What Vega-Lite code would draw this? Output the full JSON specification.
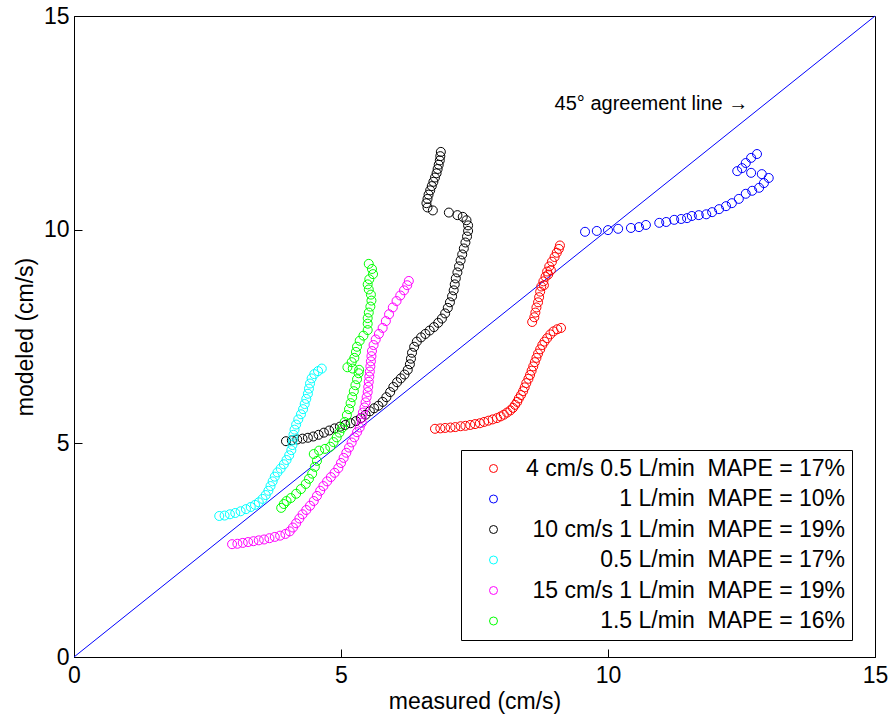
{
  "$schema": "https://vega.github.io/schema/vega-lite/v6.json",
  "width": 801,
  "height": 641,
  "autosize": {"type": "none"},
  "padding": {"left": 74, "top": 16, "right": 16, "bottom": 57},
  "background": "white",
  "config": {
    "font": "Liberation Sans",
    "view": {"stroke": "black", "strokeWidth": 1},
    "axis": {
      "grid": false,
      "domainColor": "black",
      "tickColor": "black",
      "labelColor": "black",
      "titleColor": "black",
      "labelFontSize": 23,
      "titleFontSize": 23,
      "titleFontWeight": "normal",
      "tickSize": -8,
      "labelFlush": false
    }
  },
  "datasets": {
    "series": [
      {"k": "r", "label": "4 cm/s 0.5 L/min\u00a0 MAPE = 17%"},
      {"k": "b", "label": "1 L/min\u00a0 MAPE = 10%"},
      {"k": "k", "label": "10 cm/s 1 L/min\u00a0 MAPE = 19%"},
      {"k": "c", "label": "0.5 L/min\u00a0 MAPE = 17%"},
      {"k": "m", "label": "15 cm/s 1 L/min\u00a0 MAPE = 19%"},
      {"k": "g", "label": "1.5 L/min\u00a0 MAPE = 16%"}
    ],
    "pts": [
      {"k":"r","x":6.76,"y":5.34},{"k":"r","x":6.86,"y":5.35},{"k":"r","x":6.95,"y":5.36},{"k":"r","x":7.05,"y":5.37},{"k":"r","x":7.14,"y":5.38},{"k":"r","x":7.24,"y":5.40},{"k":"r","x":7.33,"y":5.41},{"k":"r","x":7.42,"y":5.43},{"k":"r","x":7.51,"y":5.45},{"k":"r","x":7.60,"y":5.47},{"k":"r","x":7.68,"y":5.50},{"k":"r","x":7.76,"y":5.53},{"k":"r","x":7.84,"y":5.56},{"k":"r","x":7.92,"y":5.59},{"k":"r","x":7.99,"y":5.63},{"k":"r","x":8.05,"y":5.67},{"k":"r","x":8.11,"y":5.72},{"k":"r","x":8.17,"y":5.77},{"k":"r","x":8.22,"y":5.83},{"k":"r","x":8.26,"y":5.90},{"k":"r","x":8.30,"y":5.97},{"k":"r","x":8.33,"y":6.05},{"k":"r","x":8.37,"y":6.13},{"k":"r","x":8.41,"y":6.22},{"k":"r","x":8.44,"y":6.31},{"k":"r","x":8.47,"y":6.41},{"k":"r","x":8.51,"y":6.51},{"k":"r","x":8.54,"y":6.60},{"k":"r","x":8.57,"y":6.70},{"k":"r","x":8.60,"y":6.80},{"k":"r","x":8.63,"y":6.90},{"k":"r","x":8.66,"y":7.00},{"k":"r","x":8.69,"y":7.10},{"k":"r","x":8.73,"y":7.20},{"k":"r","x":8.77,"y":7.30},{"k":"r","x":8.81,"y":7.38},{"k":"r","x":8.86,"y":7.46},{"k":"r","x":8.92,"y":7.55},{"k":"r","x":8.98,"y":7.62},{"k":"r","x":9.05,"y":7.67},{"k":"r","x":9.12,"y":7.70},
      {"k":"r","x":8.58,"y":7.84},{"k":"r","x":8.62,"y":7.95},{"k":"r","x":8.64,"y":8.06},{"k":"r","x":8.66,"y":8.18},{"k":"r","x":8.69,"y":8.30},{"k":"r","x":8.71,"y":8.42},{"k":"r","x":8.73,"y":8.55},{"k":"r","x":8.75,"y":8.67},{"k":"r","x":8.80,"y":8.70},{"k":"r","x":8.79,"y":8.79},{"k":"r","x":8.83,"y":8.90},{"k":"r","x":8.88,"y":8.95},{"k":"r","x":8.86,"y":9.02},{"k":"r","x":8.93,"y":9.05},{"k":"r","x":8.90,"y":9.14},{"k":"r","x":8.95,"y":9.25},{"k":"r","x":9.00,"y":9.36},{"k":"r","x":9.04,"y":9.46},{"k":"r","x":9.08,"y":9.55},{"k":"r","x":9.10,"y":9.63},
      {"k":"b","x":9.57,"y":9.95},{"k":"b","x":9.79,"y":9.97},{"k":"b","x":10.00,"y":9.99},{"k":"b","x":10.19,"y":10.02},{"k":"b","x":10.43,"y":10.04},{"k":"b","x":10.58,"y":10.06},{"k":"b","x":10.71,"y":10.11},{"k":"b","x":10.96,"y":10.16},{"k":"b","x":11.09,"y":10.18},{"k":"b","x":11.24,"y":10.23},{"k":"b","x":11.37,"y":10.25},{"k":"b","x":11.48,"y":10.27},{"k":"b","x":11.57,"y":10.32},{"k":"b","x":11.70,"y":10.34},{"k":"b","x":11.84,"y":10.36},{"k":"b","x":11.95,"y":10.41},{"k":"b","x":12.08,"y":10.48},{"k":"b","x":12.21,"y":10.55},{"k":"b","x":12.32,"y":10.62},{"k":"b","x":12.45,"y":10.72},{"k":"b","x":12.58,"y":10.84},{"k":"b","x":12.70,"y":10.91},{"k":"b","x":12.83,"y":10.98},{"k":"b","x":12.92,"y":11.09},{"k":"b","x":13.01,"y":11.21},{"k":"b","x":12.88,"y":11.30},{"k":"b","x":12.68,"y":11.33},{"k":"b","x":12.42,"y":11.37},{"k":"b","x":12.51,"y":11.44},{"k":"b","x":12.58,"y":11.56},{"k":"b","x":12.68,"y":11.68},{"k":"b","x":12.79,"y":11.77},
      {"k":"k","x":3.97,"y":5.05},{"k":"k","x":4.08,"y":5.07},{"k":"k","x":4.18,"y":5.09},{"k":"k","x":4.28,"y":5.11},{"k":"k","x":4.38,"y":5.13},{"k":"k","x":4.48,"y":5.16},{"k":"k","x":4.58,"y":5.20},{"k":"k","x":4.68,"y":5.25},{"k":"k","x":4.78,"y":5.30},{"k":"k","x":4.88,"y":5.35},{"k":"k","x":4.98,"y":5.39},{"k":"k","x":5.08,"y":5.43},{"k":"k","x":5.18,"y":5.47},{"k":"k","x":5.28,"y":5.52},{"k":"k","x":5.37,"y":5.59},{"k":"k","x":5.46,"y":5.67},{"k":"k","x":5.54,"y":5.75},{"k":"k","x":5.62,"y":5.82},{"k":"k","x":5.70,"y":5.88},{"k":"k","x":5.78,"y":5.97},{"k":"k","x":5.85,"y":6.08},{"k":"k","x":5.92,"y":6.20},{"k":"k","x":5.98,"y":6.32},{"k":"k","x":6.05,"y":6.43},{"k":"k","x":6.12,"y":6.52},{"k":"k","x":6.19,"y":6.61},{"k":"k","x":6.25,"y":6.72},{"k":"k","x":6.29,"y":6.85},{"k":"k","x":6.31,"y":6.98},{"k":"k","x":6.33,"y":7.12},{"k":"k","x":6.37,"y":7.26},{"k":"k","x":6.42,"y":7.38},{"k":"k","x":6.50,"y":7.48},{"k":"k","x":6.58,"y":7.56},{"k":"k","x":6.66,"y":7.64},{"k":"k","x":6.74,"y":7.72},{"k":"k","x":6.82,"y":7.82},{"k":"k","x":6.89,"y":7.92},{"k":"k","x":6.95,"y":8.04},{"k":"k","x":7.00,"y":8.17},{"k":"k","x":7.04,"y":8.30},{"k":"k","x":7.08,"y":8.44},{"k":"k","x":7.11,"y":8.58},{"k":"k","x":7.13,"y":8.72},{"k":"k","x":7.15,"y":8.86},{"k":"k","x":7.18,"y":9.00},{"k":"k","x":7.21,"y":9.14},{"k":"k","x":7.24,"y":9.28},{"k":"k","x":7.27,"y":9.42},{"k":"k","x":7.30,"y":9.56},{"k":"k","x":7.33,"y":9.70},{"k":"k","x":7.36,"y":9.84},{"k":"k","x":7.38,"y":9.97},{"k":"k","x":7.38,"y":10.10},{"k":"k","x":7.35,"y":10.22},{"k":"k","x":7.28,"y":10.30},{"k":"k","x":7.18,"y":10.34},{"k":"k","x":7.02,"y":10.40},{"k":"k","x":6.72,"y":10.45},{"k":"k","x":6.62,"y":10.52},{"k":"k","x":6.60,"y":10.62},{"k":"k","x":6.62,"y":10.72},{"k":"k","x":6.64,"y":10.82},{"k":"k","x":6.67,"y":10.92},{"k":"k","x":6.70,"y":11.02},{"k":"k","x":6.73,"y":11.12},{"k":"k","x":6.76,"y":11.22},{"k":"k","x":6.79,"y":11.32},{"k":"k","x":6.81,"y":11.42},{"k":"k","x":6.83,"y":11.52},{"k":"k","x":6.85,"y":11.62},{"k":"k","x":6.86,"y":11.72},{"k":"k","x":6.87,"y":11.82},
      {"k":"c","x":2.72,"y":3.30},{"k":"c","x":2.82,"y":3.31},{"k":"c","x":2.92,"y":3.34},{"k":"c","x":3.02,"y":3.37},{"k":"c","x":3.12,"y":3.41},{"k":"c","x":3.22,"y":3.46},{"k":"c","x":3.31,"y":3.51},{"k":"c","x":3.39,"y":3.56},{"k":"c","x":3.46,"y":3.62},{"k":"c","x":3.53,"y":3.70},{"k":"c","x":3.59,"y":3.79},{"k":"c","x":3.64,"y":3.89},{"k":"c","x":3.68,"y":4.00},{"k":"c","x":3.72,"y":4.11},{"k":"c","x":3.76,"y":4.22},{"k":"c","x":3.81,"y":4.32},{"k":"c","x":3.87,"y":4.41},{"k":"c","x":3.93,"y":4.51},{"k":"c","x":3.98,"y":4.61},{"k":"c","x":4.03,"y":4.72},{"k":"c","x":4.07,"y":4.84},{"k":"c","x":4.09,"y":4.96},{"k":"c","x":4.10,"y":5.08},{"k":"c","x":4.11,"y":5.20},{"k":"c","x":4.13,"y":5.32},{"k":"c","x":4.16,"y":5.44},{"k":"c","x":4.20,"y":5.56},{"k":"c","x":4.25,"y":5.68},{"k":"c","x":4.29,"y":5.80},{"k":"c","x":4.32,"y":5.92},{"k":"c","x":4.35,"y":6.04},{"k":"c","x":4.38,"y":6.16},{"k":"c","x":4.40,"y":6.28},{"k":"c","x":4.42,"y":6.40},{"k":"c","x":4.45,"y":6.52},{"k":"c","x":4.50,"y":6.62},{"k":"c","x":4.57,"y":6.69},{"k":"c","x":4.64,"y":6.75},
      {"k":"g","x":3.88,"y":3.49},{"k":"g","x":3.93,"y":3.58},{"k":"g","x":3.98,"y":3.65},{"k":"g","x":4.06,"y":3.72},{"k":"g","x":4.16,"y":3.82},{"k":"g","x":4.25,"y":3.93},{"k":"g","x":4.34,"y":4.05},{"k":"g","x":4.40,"y":4.17},{"k":"g","x":4.46,"y":4.29},{"k":"g","x":4.51,"y":4.45},{"k":"g","x":4.55,"y":4.59},{"k":"g","x":4.49,"y":4.75},{"k":"g","x":4.59,"y":4.83},{"k":"g","x":4.70,"y":4.87},{"k":"g","x":4.80,"y":4.92},{"k":"g","x":4.86,"y":5.03},{"k":"g","x":4.92,"y":5.14},{"k":"g","x":4.97,"y":5.25},{"k":"g","x":5.02,"y":5.36},{"k":"g","x":5.07,"y":5.50},{"k":"g","x":5.11,"y":5.66},{"k":"g","x":5.15,"y":5.80},{"k":"g","x":5.18,"y":5.94},{"k":"g","x":5.21,"y":6.08},{"k":"g","x":5.24,"y":6.22},{"k":"g","x":5.27,"y":6.36},{"k":"g","x":5.30,"y":6.50},{"k":"g","x":5.33,"y":6.64},{"k":"g","x":5.34,"y":6.72},{"k":"g","x":5.22,"y":6.75},{"k":"g","x":5.12,"y":6.78},{"k":"g","x":5.20,"y":6.90},{"k":"g","x":5.25,"y":7.00},{"k":"g","x":5.28,"y":7.14},{"k":"g","x":5.30,"y":7.26},{"k":"g","x":5.35,"y":7.40},{"k":"g","x":5.42,"y":7.52},{"k":"g","x":5.50,"y":7.65},{"k":"g","x":5.50,"y":7.80},{"k":"g","x":5.50,"y":7.93},{"k":"g","x":5.52,"y":8.06},{"k":"g","x":5.55,"y":8.20},{"k":"g","x":5.57,"y":8.34},{"k":"g","x":5.56,"y":8.48},{"k":"g","x":5.52,"y":8.60},{"k":"g","x":5.50,"y":8.72},{"k":"g","x":5.53,"y":8.84},{"k":"g","x":5.60,"y":8.96},{"k":"g","x":5.58,"y":9.08},{"k":"g","x":5.52,"y":9.20},
      {"k":"m","x":2.96,"y":2.64},{"k":"m","x":3.06,"y":2.65},{"k":"m","x":3.16,"y":2.67},{"k":"m","x":3.26,"y":2.69},{"k":"m","x":3.36,"y":2.71},{"k":"m","x":3.46,"y":2.73},{"k":"m","x":3.56,"y":2.75},{"k":"m","x":3.66,"y":2.78},{"k":"m","x":3.76,"y":2.81},{"k":"m","x":3.86,"y":2.84},{"k":"m","x":3.96,"y":2.88},{"k":"m","x":4.04,"y":2.94},{"k":"m","x":4.10,"y":3.03},{"k":"m","x":4.16,"y":3.13},{"k":"m","x":4.22,"y":3.24},{"k":"m","x":4.28,"y":3.34},{"k":"m","x":4.35,"y":3.44},{"k":"m","x":4.42,"y":3.54},{"k":"m","x":4.49,"y":3.65},{"k":"m","x":4.55,"y":3.77},{"k":"m","x":4.61,"y":3.89},{"k":"m","x":4.67,"y":4.00},{"k":"m","x":4.74,"y":4.11},{"k":"m","x":4.81,"y":4.21},{"k":"m","x":4.88,"y":4.31},{"k":"m","x":4.95,"y":4.42},{"k":"m","x":5.00,"y":4.54},{"k":"m","x":5.05,"y":4.66},{"k":"m","x":5.10,"y":4.78},{"k":"m","x":5.15,"y":4.90},{"k":"m","x":5.20,"y":5.02},{"k":"m","x":5.25,"y":5.14},{"k":"m","x":5.30,"y":5.26},{"k":"m","x":5.35,"y":5.37},{"k":"m","x":5.39,"y":5.48},{"k":"m","x":5.39,"y":5.60},{"k":"m","x":5.41,"y":5.72},{"k":"m","x":5.44,"y":5.84},{"k":"m","x":5.46,"y":5.96},{"k":"m","x":5.48,"y":6.08},{"k":"m","x":5.50,"y":6.20},{"k":"m","x":5.51,"y":6.32},{"k":"m","x":5.52,"y":6.44},{"k":"m","x":5.53,"y":6.56},{"k":"m","x":5.54,"y":6.68},{"k":"m","x":5.55,"y":6.80},{"k":"m","x":5.56,"y":6.92},{"k":"m","x":5.57,"y":7.04},{"k":"m","x":5.58,"y":7.16},{"k":"m","x":5.61,"y":7.30},{"k":"m","x":5.65,"y":7.43},{"k":"m","x":5.71,"y":7.56},{"k":"m","x":5.78,"y":7.70},{"k":"m","x":5.84,"y":7.86},{"k":"m","x":5.90,"y":8.02},{"k":"m","x":5.97,"y":8.18},{"k":"m","x":6.04,"y":8.33},{"k":"m","x":6.11,"y":8.46},{"k":"m","x":6.18,"y":8.58},{"k":"m","x":6.24,"y":8.70},{"k":"m","x":6.27,"y":8.80}
    ]
  },
  "layer": [
    {
      "data": {"values": [{"x": 0, "y": 0}, {"x": 15, "y": 15}]},
      "mark": {"type": "line", "color": "#0000ff", "strokeWidth": 1},
      "encoding": {
        "x": {"field": "x", "type": "quantitative", "scale": {"domain": [0, 15], "nice": false}, "axis": {"values": [0, 5, 10, 15], "title": "measured (cm/s)", "labelPadding": 15, "titlePadding": 3}},
        "y": {"field": "y", "type": "quantitative", "scale": {"domain": [0, 15], "nice": false}, "axis": {"values": [0, 5, 10, 15], "title": "modeled (cm/s)", "labelPadding": 13, "titlePadding": 6}}
      }
    },
    {
      "data": {"name": "pts"},
      "transform": [{"lookup": "k", "from": {"data": {"name": "series"}, "key": "k", "fields": ["label"]}}],
      "mark": {"type": "point", "shape": "circle", "filled": false, "size": 81, "strokeWidth": 1, "opacity": 1},
      "encoding": {
        "x": {"field": "x", "type": "quantitative"},
        "y": {"field": "y", "type": "quantitative"},
        "color": {
          "field": "label",
          "type": "nominal",
          "scale": {
            "domain": ["4 cm/s 0.5 L/min\u00a0 MAPE = 17%", "1 L/min\u00a0 MAPE = 10%", "10 cm/s 1 L/min\u00a0 MAPE = 19%", "0.5 L/min\u00a0 MAPE = 17%", "15 cm/s 1 L/min\u00a0 MAPE = 19%", "1.5 L/min\u00a0 MAPE = 16%"],
            "range": ["#ff0000", "#0000ff", "#000000", "#00ffff", "#ff00ff", "#00ff00"]
          },
          "legend": {
            "orient": "none",
            "legendX": 387,
            "legendY": 434,
            "title": null,
            "strokeColor": "black",
            "fillColor": "white",
            "padding": 7,
            "symbolOffset": 14,
            "symbolType": "circle",
            "symbolSize": 64,
            "symbolStrokeWidth": 1,
            "labelAlign": "right",
            "labelOffset": 340,
            "labelLimit": 500,
            "labelFontSize": 23,
            "labelColor": "black",
            "rowPadding": 6.5
          }
        }
      }
    },
    {
      "data": {"values": [{"x": 9.0, "y": 12.93, "t": "45° agreement line →"}]},
      "mark": {"type": "text", "align": "left", "baseline": "middle", "fontSize": 20, "color": "black"},
      "encoding": {
        "x": {"field": "x", "type": "quantitative"},
        "y": {"field": "y", "type": "quantitative"},
        "text": {"field": "t"}
      }
    }
  ]
}
